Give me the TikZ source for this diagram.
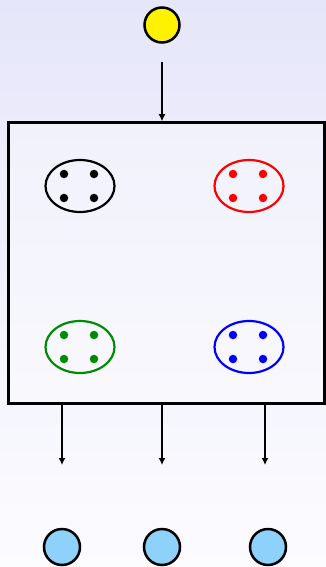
\documentclass[tikz,border=0pt]{standalone}
\usetikzlibrary{arrows.meta,shapes.geometric}
\definecolor{bgtop}{HTML}{E6E6FA}
\definecolor{bgbot}{HTML}{FCFCFF}
\definecolor{ltblue}{HTML}{8ED2FC}
\definecolor{dgreen}{HTML}{008C00}
\begin{document}
\begin{tikzpicture}[x=1pt,y=-1pt,
  ball/.style={circle,draw=black,line width=2.5pt,minimum size=35pt,inner sep=0pt},
  cluster/.style={ellipse,draw=#1,line width=2.2pt,minimum width=69pt,minimum height=52pt,inner sep=0pt},
  dot/.style={circle,fill=#1,minimum size=8.5pt,inner sep=0pt},
  arr/.style={-{Latex[length=7pt,width=7pt]},line width=2pt}]
\shade[top color=bgtop,bottom color=bgbot] (0,0) rectangle (326,567);
\useasboundingbox (0,0) rectangle (326,567);
\node[ball,fill=yellow] (src) at (162,25) {};
\coordinate (srcend) at (162,62);
\node[draw=black,line width=2.6pt,minimum width=316pt,minimum height=281pt,inner sep=0pt,fill=white,fill opacity=0.35,text opacity=1] (box) at (166.5,263) {};
\draw[arr] (srcend) -- (box.north -| srcend);
\foreach \cx/\cy/\col/\nm in {80/186/black/c1,249/186/red/c2,80/347/dgreen/c3,249/347/blue/c4}{
  \node[cluster=\col] (\nm) at (\cx,\cy) {};
  \node[dot=\col] (\nm a) at (\cx-16,\cy-12) {};
  \node[dot=\col] (\nm b) at (\cx+14,\cy-12) {};
  \node[dot=\col] (\nm c) at (\cx-16,\cy+12) {};
  \node[dot=\col] (\nm d) at (\cx+14,\cy+12) {};
}
\foreach \x/\nm/\bx in {62/o1/62,162/o2/162,265/o3/268}{
  \coordinate (\nm s) at (\x,404);
  \coordinate (\nm e) at (\x,465);
  \draw[arr] (\nm s) -- (\nm e);
  \node[ball,fill=ltblue,minimum size=36pt] (\nm) at (\bx,547) {};
}
\end{tikzpicture}
\end{document}
